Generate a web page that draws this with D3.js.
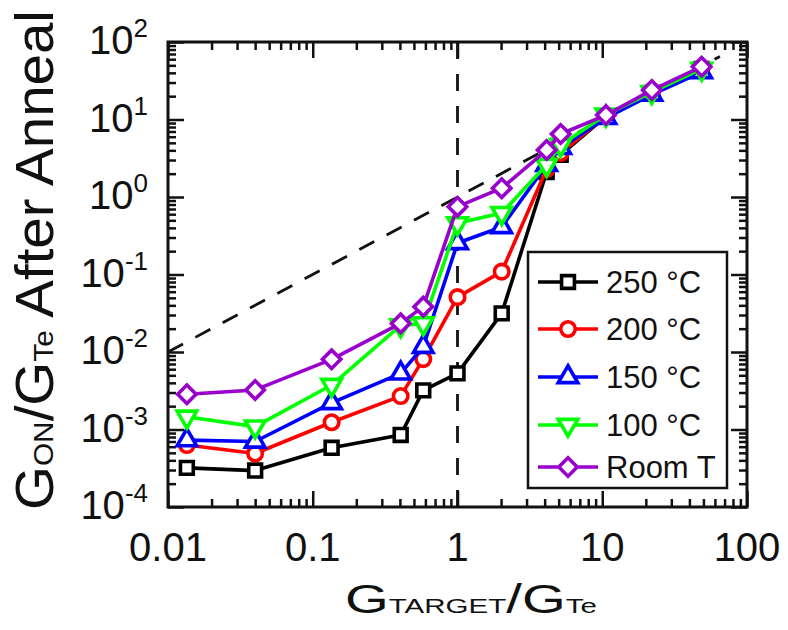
<!DOCTYPE html>
<html>
<head>
<meta charset="utf-8">
<script src="https://cdn.jsdelivr.net/npm/d3@7/dist/d3.min.js"></script>
<style>
  html, body { margin: 0; padding: 0; background: #fff; }
  svg { display: block; }
  text { font-family: "Liberation Sans", Arial, Helvetica, sans-serif; fill: #111; }
</style>
</head>
<body>
<svg id="chart" width="788" height="630"></svg>
<script>
// ---------------- data ----------------
const gTarget = [0.0135, 0.04, 0.135, 0.405, 0.58, 1.0, 2.02, 4.13, 5.16, 10.6, 22, 48.6];
const seriesNames = ["250 °C", "200 °C", "150 °C", "100 °C", "Room T"];
const s250 = [3.2e-4, 2.95e-4, 5.8e-4, 8.5e-4, 3.2e-3, 5.3e-3, 0.0315, 2.1, 3.5, 11, 22, 45];
const s200 = [6.3e-4, 4.9e-4, 1.24e-3, 2.7e-3, 8.1e-3, 0.051, 0.109, 2.3, 3.7, 11, 22, 46];
const s150 = [7.3e-4, 7.0e-4, 2.2e-3, 5.3e-3, 0.0117, 0.255, 0.41, 2.6, 4.3, 10.5, 21, 41];
const s100 = [1.46e-3, 1.09e-3, 3.75e-3, 0.022, 0.0234, 0.457, 0.62, 2.6, 4.7, 11.5, 22.5, 45];
const sRT  = [2.85e-3, 3.24e-3, 8.05e-3, 0.0234, 0.0385, 0.75, 1.30, 4.04, 6.5, 11.4, 24, 48];
const xTickValues = [0.01, 0.1, 1, 10, 100];
const xTickLabels = ["0.01", "0.1", "1", "10", "100"];
const yTickValues = [1e-4, 1e-3, 1e-2, 1e-1, 1e0, 1e1, 1e2];
const yTickExponents = ["-4", "-3", "-2", "-1", "0", "1", "2"];
const diagonal = [0.01, 65];   // y = x reference line extent
const verticalRef = 1;         // dashed vertical line position

// ---------------- layout ----------------
const L = 168, R = 747, T = 42, B = 507;
const svg = d3.select("#chart");
const x = d3.scaleLog().domain([0.01, 100]).range([L, R]);
const y = d3.scaleLog().domain([1e-4, 1e2]).range([B, T]);

const colors = ["#000000", "#ff0000", "#0000ff", "#00ff00", "#9900cc"];
const symbols = [
  {type: d3.symbolSquare, size: 165, rot: 0},
  {type: d3.symbolCircle, size: 165, rot: 0},
  {type: d3.symbolTriangle, size: 165, rot: 0},
  {type: d3.symbolTriangle, size: 165, rot: 180},
  {type: d3.symbolSquare, size: 170, rot: 45}
];
const allSeries = [s250, s200, s150, s100, sRT];

// minor ticks
function minorTicks(lo, hi) {
  const out = [];
  for (let e = lo; e < hi; e++) for (let k = 2; k <= 9; k++) out.push(k * Math.pow(10, e));
  return out;
}
const xMinor = minorTicks(-2, 2);
const yMinor = minorTicks(-4, 2);

const MAJ = 16, MIN = 8;
function styleAxis(g) {
  g.select(".domain").remove();
  g.selectAll("line").attr("stroke", "#111").attr("stroke-width", 2.5);
  g.selectAll("text").remove();
}
svg.append("g").attr("transform", `translate(0,${B})`).call(d3.axisBottom(x).tickValues(xTickValues).tickSize(-MAJ)).call(styleAxis);
svg.append("g").attr("transform", `translate(0,${B})`).call(d3.axisBottom(x).tickValues(xMinor).tickSize(-MIN)).call(styleAxis);
svg.append("g").attr("transform", `translate(0,${T})`).call(d3.axisTop(x).tickValues(xTickValues).tickSize(-MAJ)).call(styleAxis);
svg.append("g").attr("transform", `translate(0,${T})`).call(d3.axisTop(x).tickValues(xMinor).tickSize(-MIN)).call(styleAxis);
svg.append("g").attr("transform", `translate(${L},0)`).call(d3.axisLeft(y).tickValues(yTickValues).tickSize(-MAJ)).call(styleAxis);
svg.append("g").attr("transform", `translate(${L},0)`).call(d3.axisLeft(y).tickValues(yMinor).tickSize(-MIN)).call(styleAxis);
svg.append("g").attr("transform", `translate(${R},0)`).call(d3.axisRight(y).tickValues(yTickValues).tickSize(-MAJ)).call(styleAxis);
svg.append("g").attr("transform", `translate(${R},0)`).call(d3.axisRight(y).tickValues(yMinor).tickSize(-MIN)).call(styleAxis);

// frame
svg.append("rect").attr("x", L).attr("y", T).attr("width", R - L).attr("height", B - T)
  .attr("fill", "none").attr("stroke", "#111").attr("stroke-width", 3);

// tick labels
svg.append("g").selectAll("text").data(xTickValues).join("text")
  .attr("x", d => x(d)).attr("y", 561).attr("text-anchor", "middle")
  .attr("font-size", 40).text((d, i) => xTickLabels[i]);

const yl = svg.append("g").selectAll("text").data(yTickValues).join("text")
  .attr("x", 148).attr("y", d => y(d) + 12).attr("text-anchor", "end").attr("font-size", 40);
yl.append("tspan").text("10");
yl.append("tspan").attr("font-size", 26).attr("dy", -17).text((d, i) => yTickExponents[i]);

// reference dashed lines
svg.append("line").attr("x1", x(diagonal[0])).attr("y1", y(diagonal[0]))
  .attr("x2", x(diagonal[1])).attr("y2", y(diagonal[1]))
  .attr("stroke", "#111").attr("stroke-width", 2.8).attr("stroke-dasharray", "17,14");
svg.append("line").attr("x1", x(verticalRef)).attr("y1", B)
  .attr("x2", x(verticalRef)).attr("y2", T)
  .attr("stroke", "#111").attr("stroke-width", 2.8).attr("stroke-dasharray", "17,15");

// series
const line = d3.line().x(d => x(d[0])).y(d => y(d[1]));
allSeries.forEach((vals, si) => {
  const pts = gTarget.map((g, i) => [g, vals[i]]);
  const g = svg.append("g");
  g.append("path").attr("d", line(pts)).attr("fill", "none")
    .attr("stroke", colors[si]).attr("stroke-width", 3.6).attr("stroke-linejoin", "round");
  const sym = d3.symbol().type(symbols[si].type).size(symbols[si].size);
  g.selectAll("path.m").data(pts).join("path").attr("class", "m")
    .attr("d", sym)
    .attr("transform", d => `translate(${x(d[0])},${y(d[1])}) rotate(${symbols[si].rot})`)
    .attr("fill", "#fff").attr("stroke", colors[si]).attr("stroke-width", 3.6);
});

// legend
const lg = svg.append("g");
lg.append("rect").attr("x", 528).attr("y", 252).attr("width", 199).attr("height", 236)
  .attr("fill", "#fff").attr("stroke", "#111").attr("stroke-width", 2.5);
const rowY = [282, 329, 377, 425, 467];
seriesNames.forEach((name, si) => {
  const yy = rowY[si];
  lg.append("line").attr("x1", 538).attr("x2", 598).attr("y1", yy).attr("y2", yy)
    .attr("stroke", colors[si]).attr("stroke-width", 3.6);
  lg.append("path").attr("d", d3.symbol().type(symbols[si].type).size(symbols[si].size)())
    .attr("transform", `translate(568,${yy}) rotate(${symbols[si].rot})`)
    .attr("fill", "#fff").attr("stroke", colors[si]).attr("stroke-width", 3.6);
  lg.append("text").attr("x", 606).attr("y", yy + 11).attr("font-size", 31).text(name);
});

// axis titles
const xt = svg.append("text").attr("text-anchor", "start").attr("font-size", 40);
xt.append("tspan").text("G");
xt.append("tspan").attr("font-size", 21).text("TARGET");
xt.append("tspan").text("/G");
xt.append("tspan").attr("font-size", 21).text("Te");
const xtLen = xt.node().getComputedTextLength();
const xtW = 252;
xt.attr("transform", `translate(${471 - xtW / 2},613) scale(${xtW / xtLen},1)`);

const yt = svg.append("text").attr("text-anchor", "start").attr("font-size", 53);
yt.append("tspan").text("G");
yt.append("tspan").attr("font-size", 28).text("ON");
yt.append("tspan").text("/G");
yt.append("tspan").attr("font-size", 28).text("Te");
yt.append("tspan").text(" After Anneal");
const ytLen = yt.node().getComputedTextLength();
const ytW = 500;
yt.attr("transform", `translate(53,${260 + ytW / 2}) rotate(-90) scale(${ytW / ytLen},1)`);
</script>
</body>
</html>
